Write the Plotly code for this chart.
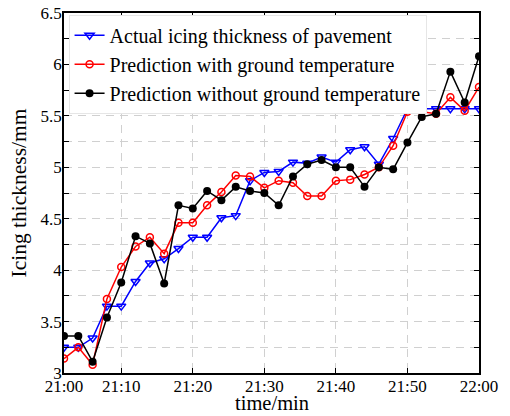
import plotly.graph_objects as go

idx = list(range(1, 31))
tick_pos = [1, 5, 10, 15, 20, 25, 30]
tick_labels = ["21:00", "21:10", "21:20", "21:30", "21:40", "21:50", "22:00"]

actual = [3.25, 3.25, 3.34, 3.65, 3.65, 3.89, 4.07, 4.11, 4.21, 4.32, 4.32, 4.51, 4.53, 4.87, 4.95,
          4.96, 5.05, 5.04, 5.10, 5.05, 5.17, 5.20, 5.03, 5.28, 5.57, 5.57, 5.57, 5.57, 5.57, 5.57]
with_gt = [3.14, 3.25, 3.08, 3.72, 4.03, 4.23, 4.32, 4.16, 4.46, 4.46, 4.63, 4.76, 4.92, 4.91, 4.80,
           4.87, 4.85, 4.72, 4.72, 4.87, 4.88, 4.93, 5.00, 5.21, 5.54, 5.54, 5.52, 5.68, 5.55, 5.78]
without_gt = [3.36, 3.36, 3.11, 3.54, 3.88, 4.33, 4.26, 3.87, 4.63, 4.60, 4.77, 4.68, 4.81, 4.77, 4.75,
              4.63, 4.91, 5.03, 5.07, 5.00, 5.00, 4.81, 5.00, 4.98, 5.24, 5.49, 5.52, 5.93, 5.63, 6.08]

FONT = "Liberation Serif"

fig = go.Figure()
fig.add_trace(go.Scatter(x=idx, y=actual, mode="lines+markers", name="Actual icing thickness of pavement",
                         line=dict(color="#0000ff", width=1.5),
                         marker=dict(symbol="triangle-down-open", size=8, color="#0000ff", line=dict(width=1.5))))
fig.add_trace(go.Scatter(x=idx, y=with_gt, mode="lines+markers", name="Prediction with ground temperature",
                         line=dict(color="#ff0000", width=1.5),
                         marker=dict(symbol="circle-open", size=7, color="#ff0000", line=dict(width=1.5))))
fig.add_trace(go.Scatter(x=idx, y=without_gt, mode="lines+markers", name="Prediction without ground temperature",
                         line=dict(color="#000000", width=1.5),
                         marker=dict(symbol="circle", size=8, color="#000000")))

grid = dict(showgrid=True, gridcolor="#d0d0d0", gridwidth=1, griddash="8px,6px")
fig.update_layout(
    width=510, height=416,
    margin=dict(l=64, r=31, t=13, b=43),
    paper_bgcolor="white", plot_bgcolor="white",
    font=dict(family=FONT, size=17, color="black"),
    showlegend=True,
    legend=dict(x=0.011, y=0.995, xanchor="left", yanchor="top",
                bgcolor="white", bordercolor="#e6e6e6", borderwidth=1,
                font=dict(family=FONT, size=20), tracegroupgap=0,
                itemwidth=30),
    xaxis=dict(range=[1, 30], tickvals=tick_pos, ticktext=tick_labels,
               ticks="inside", ticklen=5, tickcolor="black",
               showline=True, linecolor="black", linewidth=1.5, mirror="ticks",
               zeroline=False, automargin=False, ticklabelstandoff=-3,
               tickfont=dict(family=FONT, size=17), **grid),
    yaxis=dict(range=[3, 6.5], dtick=0.5, tick0=3,
               ticks="inside", ticklen=5, tickcolor="black",
               showline=True, linecolor="black", linewidth=1.5, mirror="ticks",
               zeroline=False, automargin=False, ticklabelstandoff=-3,
               minor=dict(dtick=0.25, ticks="inside", ticklen=5, tickcolor="black",
                          showgrid=True, gridcolor="#d0d0d0", griddash="8px,6px"),
               title=dict(text="Icing thickness/mm", font=dict(family=FONT, size=21.5), standoff=8),
               tickfont=dict(family=FONT, size=17), **grid),
    annotations=[dict(text="time/min", xref="paper", yref="paper", x=0.5, y=-0.1186,
                      xanchor="center", yanchor="bottom", showarrow=False,
                      font=dict(family=FONT, size=20.5))],
)

fig.write_html("out.html")
